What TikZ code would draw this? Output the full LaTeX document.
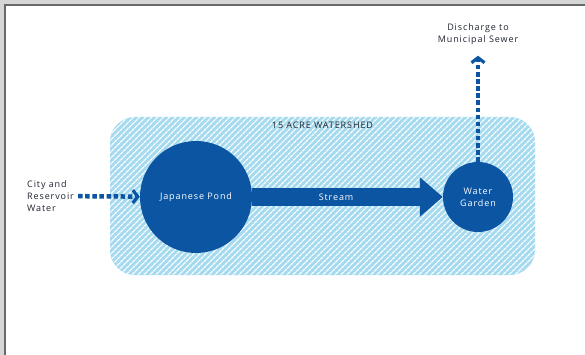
\documentclass[tikz,border=0pt]{standalone}
\usepackage{fontspec}
\setmainfont{Open Sans}[LetterSpace=10]
\usetikzlibrary{arrows.meta,positioning,patterns.meta}
\definecolor{ink}      {HTML}{1E2430}
\definecolor{pondblue} {HTML}{0B55A3}
\definecolor{shedblue} {HTML}{A6DAEF}
\definecolor{paper}    {HTML}{D6D6D6}
\definecolor{edge}     {HTML}{6A6A6A}

\begin{document}
\begin{tikzpicture}[x=1pt, y=-1pt, font=\fontsize{9}{12}\selectfont,
    pool/.style={circle, fill=pondblue, text=white, align=center, inner sep=0pt},
    feed/.style={pondblue, line width=4.5pt, dash pattern=on 4.5pt off 2.6pt,
      -{Straight Barb[length=5pt, width=13pt, line width=3.2pt]}},
    note/.style={text=ink, align=center, inner sep=1pt}]
  \useasboundingbox (0,0) rectangle (585,355);
  % sheet and frame
  \fill[paper] (0,0) rectangle (585,355);
  \fill[white] (5,5) rectangle (585,355);
  \draw[edge, line width=1.5pt] (5,355) -- (5,5) -- (585,5);
  % watershed
  \node[minimum width=425pt, minimum height=158pt, rounded corners=25pt,
    fill=shedblue, postaction={pattern={Lines[angle=45, distance=4pt, line width=1.3pt]},
    pattern color=white}] (shed) at (322.5,196) {};
  \node[note, below=4pt of shed.north] (title) {15 ACRE WATERSHED};
  % ponds
  \node[pool, minimum size=112pt] (pond) at (196,197) {Japanese Pond};
  \node[pool, minimum size=70pt] (garden) at (478,197) {Water\\Garden};
  % labels
  \node[note, align=left, anchor=west] (inlet) at (26,196) {City and\\Reservoir\\Water};
  \node[note] (outlet) at (478,34) {Discharge to\\Municipal Sewer};
  % flows
  \draw[feed, shorten <=3pt] (inlet) -- (pond);
  \draw[pondblue, line width=17pt, -{Triangle[length=23pt, width=38pt]}] (pond) -- (garden)
    node[pos=0.44, text=white] {Stream};
  \draw[feed, shorten >=10pt] (garden) -- (outlet);
\end{tikzpicture}
\end{document}
